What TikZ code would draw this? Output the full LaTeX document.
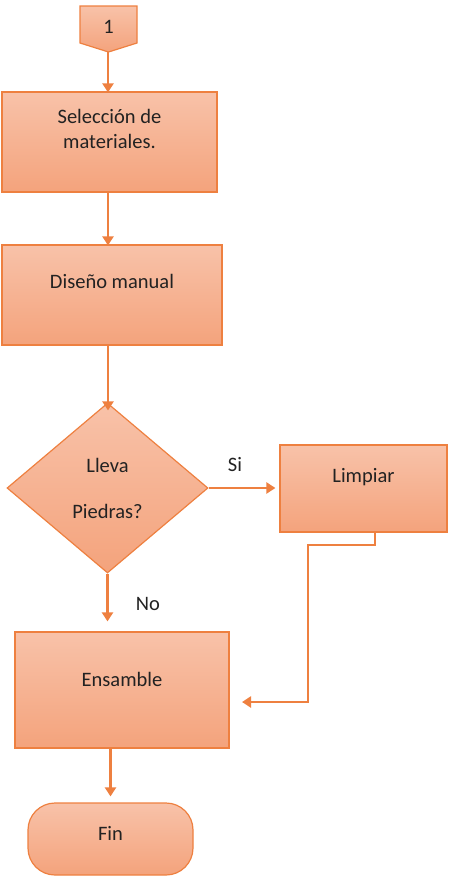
\documentclass[tikz,border=0pt]{standalone}
\usepackage{fontspec}
\setmainfont{Carlito}
\usetikzlibrary{arrows.meta,shapes.geometric}
\definecolor{edge}{HTML}{EE8040}
\definecolor{filltop}{HTML}{F8C2A9}
\definecolor{fillbot}{HTML}{F4A37C}
\definecolor{ink}{HTML}{222222}
\begin{document}
\begin{tikzpicture}[x=1pt,y=-1pt,
  shapebox/.style={draw=edge,line width=1.2pt,top color=filltop,bottom color=fillbot,inner sep=0pt},
  procbox/.style={shapebox,rectangle},
  txt/.style={text=ink,font=\fontsize{20.5}{25}\selectfont,align=center,inner sep=0pt},
  flow/.style={draw=edge,line width=2.6pt,-{Triangle[length=9pt,width=11pt]}}
]
\useasboundingbox (0,0) rectangle (450,878);

% off-page connector
\draw[shapebox] (80,6) -- (137,6) -- (137,43) -- (108.5,52) -- (80,43) -- cycle;
\node[txt] (one) at (108.5,27) {1};
\coordinate (onetip) at (108,52);
\coordinate (mainx) at (108,0);

% process boxes
\node[procbox,minimum width=215pt,minimum height=100pt] (sel) at (109.5,142) {};
\node[txt] (seltxt) at (109.5,129) {Selección de\\materiales.};

\node[procbox,minimum width=220pt,minimum height=100pt] (dis) at (112,295) {};
\node[txt] (distxt) at (112,281) {Diseño manual};

% decision
\node[shapebox,diamond,minimum width=201pt,minimum height=170pt] (dec) at (107.5,488) {};
\node[txt] (dectxt1) at (107.5,465) {Lleva};
\node[txt] (dectxt2) at (107.5,511) {Piedras?};

\node[procbox,minimum width=167pt,minimum height=87pt] (limp) at (363.5,488.5) {};
\node[txt] (limptxt) at (363.5,477) {Limpiar};

\node[procbox,minimum width=214pt,minimum height=116pt] (ens) at (122,690) {};
\node[txt] (enstxt) at (122,679) {Ensamble};

% terminal
\node[shapebox,rectangle,rounded corners=27pt,minimum width=165pt,minimum height=72pt] (fin) at (110.5,839) {};
\node[txt] (fintxt) at (110.5,833) {Fin};

% connectors
\draw[flow] (onetip) -- ([yshift=-1pt]sel.north -| mainx);
\draw[flow] (sel.south -| mainx) -- ([yshift=-1pt]dis.north -| mainx);
\draw[flow] (dis.south -| mainx) -- ([yshift=-8pt]dec.north -| mainx);
\draw[flow,shorten >=4pt] (dec.east) -- (limp.west |- dec.east);
\node[txt] (si) at (235,465) {Si};
\draw[flow,shorten >=10pt] (dec.south) -- (ens.north -| dec.south);
\node[txt] (no) at (148,604) {No};
\coordinate (ensin) at (242,702);
\draw[flow] ([xshift=11.5pt]limp.south) -- (375,545) -- (308,545) -- (308,702) -- (ensin);
\draw[flow,shorten >=6pt] (ens.south -| fin.north) -- (fin.north);
\end{tikzpicture}
\end{document}
